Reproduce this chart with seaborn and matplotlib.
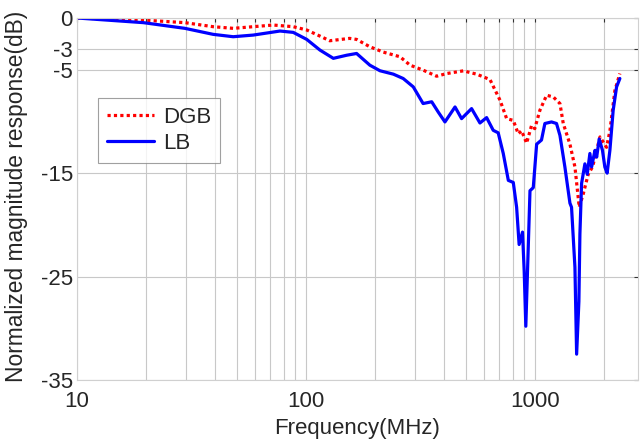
import matplotlib
matplotlib.use("Agg")
import matplotlib.pyplot as plt
from matplotlib.ticker import FixedLocator, LogLocator, NullFormatter
import seaborn as sns
import pandas as pd

## values
dgb_freq = [10, 19.5, 29.6, 39.3, 48.1, 58.9, 71.9, 88.0, 100.8, 115.1, 127, 155.1, 166.4,
            190.1, 217.8, 257.6, 284.9, 324.8, 372.1, 412.0, 486.7, 556.3, 636.4, 704.1,
            752.6, 804.5, 845.7, 874.3, 920.0, 966.7, 998.4, 1051.5, 1124.6, 1202.3,
            1286.2, 1329.9, 1422.1, 1495.5, 1561.7, 1626.4, 1709.7, 1785.4, 1924.2, 2055,
            2126.5, 2235.2, 2350]
dgb_db = [0, -0.2, -0.45, -0.84, -1.0, -0.84, -0.68, -0.84, -1.16, -1.75, -2.2, -1.97, -2.07,
          -2.78, -3.3, -3.75, -4.56, -5.04, -5.63, -5.37, -5.11, -5.43, -5.95, -7.95, -9.73,
          -9.9, -11.2, -10.9, -12.1, -10.4, -10.7, -8.92, -7.47, -7.63, -8.27, -10.2, -12.2,
          -14.4, -18.3, -17.0, -15.1, -14.4, -11.5, -12.5, -10.9, -7.0, -5.37]

lb_freq = [10, 19.5, 29.6, 39.3, 48.1, 58.9, 77.0, 88.0, 100.8, 115.1, 131.7, 150.6, 166.4,
           190.1, 210.5, 240.9, 265.9, 294.3, 324.8, 354.2, 378.4, 404.6, 447.8, 478.3,
           528.9, 575.3, 615.3, 657.6, 691.3, 727.4, 765.4, 804.5, 832.0, 853.2, 882.8,
           897.8, 912.6, 951.7, 983.5, 1017.6, 1068.3, 1105.5, 1181.9, 1242.6, 1286.2,
           1351.8, 1422.1, 1445.4, 1495.5, 1521.2, 1556.3, 1572.2, 1598.9, 1653.2, 1692.5,
           1738.3, 1769, 1829, 1861, 1908.8, 1973, 2020, 2067.6, 2125.5, 2196.9, 2273.6,
           2350]
lb_db = [0, -0.45, -1.0, -1.58, -1.81, -1.65, -1.26, -1.39, -2.07, -3.1, -3.9, -3.6, -3.43,
         -4.56, -5.1, -5.43, -5.85, -6.66, -8.27, -8.1, -9.1, -10.05, -8.6, -9.73, -8.76,
         -10.15, -9.63, -10.86, -11.1, -13.1, -15.7, -15.9, -18.3, -21.9, -20.7, -24.5,
         -29.8, -16.7, -16.4, -12.2, -11.8, -10.2, -10.05, -10.2, -11.35, -14.4, -17.9,
         -18.3, -24.1, -32.5, -27.4, -20.9, -16.0, -14.1, -15.1, -13.1, -14.4, -12.8,
         -13.45, -11.7, -12.8, -14.4, -15.0, -12.8, -8.92, -6.66, -5.85]

y_ticks = [0, -3, -5, -15, -25, -35]
x_ticks = [10, 100, 1000]

df = pd.concat([
    pd.DataFrame({"freq": dgb_freq, "db": dgb_db, "series": "DGB"}),
    pd.DataFrame({"freq": lb_freq, "db": lb_db, "series": "LB"}),
])

sns.set_style("white")
plt.rcParams["font.family"] = ["Liberation Sans", "DejaVu Sans"]

fig = plt.figure(figsize=(6.4, 4.41), dpi=100)
ax = fig.add_axes([77 / 640, 1 - 380 / 441, 561 / 640, 362 / 441])

sns.lineplot(data=df, x="freq", y="db", hue="series", style="series",
             palette={"DGB": "#ff0000", "LB": "#0000ff"},
             dashes={"DGB": (1, 1), "LB": ""}, linewidth=2.3,
             sort=False, estimator=None, ax=ax)

ax.set_xscale("log")
ax.set_xlim(10, 2820)
ax.set_ylim(-35, 0)
ax.xaxis.set_major_locator(FixedLocator(x_ticks))
ax.set_xticklabels([str(t) for t in x_ticks])
ax.xaxis.set_minor_locator(LogLocator(base=10, subs=range(2, 10)))
ax.xaxis.set_minor_formatter(NullFormatter())
ax.set_yticks(y_ticks)
ax.set_yticklabels([str(t) for t in y_ticks])

ax.grid(True, which="both", axis="x", color="#c8c8c8", linewidth=0.8)
ax.grid(True, which="major", axis="y", color="#c8c8c8", linewidth=0.8)
ax.tick_params(axis="both", which="both", direction="in", top=True, right=True,
               length=3, width=0.8, color="#333333", labelsize=16)
ax.tick_params(axis="x", pad=8)
ax.tick_params(axis="y", pad=3)
for s in ax.spines.values():
    s.set_color("#d0d0d0")
    s.set_linewidth(0.8)

ax.set_xlabel("Frequency(MHz)", fontsize=16, labelpad=4)
ax.set_ylabel("Normalized magnitude response(dB)", fontsize=16.4)
ax.yaxis.set_label_coords(-0.087, 0.507)

leg = ax.legend(loc="upper left", bbox_to_anchor=(0.038, 0.779), borderaxespad=0,
                fontsize=16, frameon=True, fancybox=False, handlelength=2.1,
                handletextpad=0.4, borderpad=0.4, labelspacing=0.22)
leg.get_frame().set_edgecolor("#888888")
leg.get_frame().set_linewidth(0.8)
for line in leg.get_lines():
    line.set_linewidth(2.3)

fig.savefig("out.png", dpi=100)
